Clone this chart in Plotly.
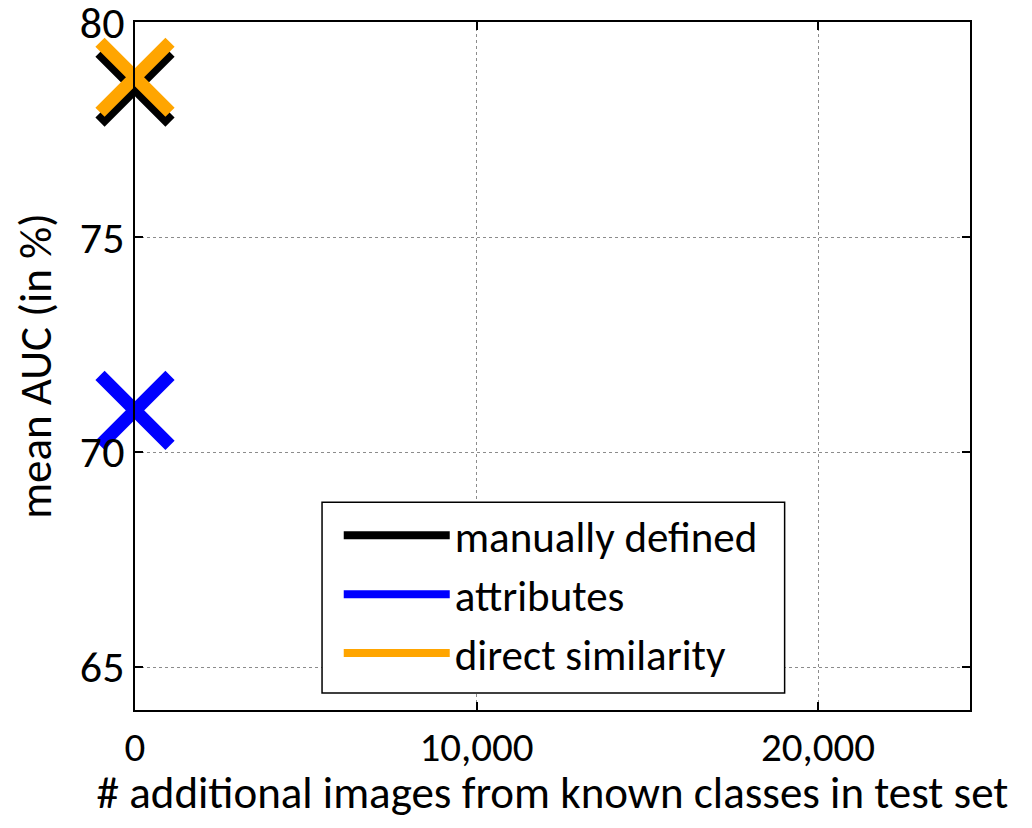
import plotly.graph_objects as go

# data
series_names = ["manually defined", "attributes", "direct similarity"]
series_x = [[0], [0], [0]]
series_y = [[78.49], [70.97], [78.72]]
series_colors = ["#000000", "#0000FF", "#FFA500"]

x_ticks = [0, 10000, 20000]
x_tick_labels = ["0", "10,000", "20,000"]
y_ticks = [65, 70, 75, 80]
y_tick_labels = ["65", "70", "75", "80"]
x_range = [0, 24450]
y_range = [64, 80.005]

FONT = "Calibri, Carlito, Lato, sans-serif"

fig = go.Figure()
for name, xs, ys, col in zip(series_names, series_x, series_y, series_colors):
    fig.add_trace(go.Scatter(
        x=xs, y=ys, mode="markers", name=name, legendgroup=name, showlegend=False,
        marker=dict(symbol="x-thin", size=70, line=dict(color=col, width=13)),
        cliponaxis=False,
    ))
for name, col in zip(series_names, series_colors):
    fig.add_trace(go.Scatter(
        x=[None], y=[None], mode="lines", name=name, legendgroup=name,
        line=dict(color=col, width=8),
    ))

axis_common = dict(
    showline=True, linecolor="black", linewidth=1.5, mirror="ticks",
    ticks="inside", ticklen=8, tickwidth=1.5, tickcolor="black",
    showgrid=True, gridcolor="#8c8c8c", griddash="dot", gridwidth=1,
    zeroline=False,
    automargin=False, ticklabeloverflow="allow",
)

fig.update_xaxes(range=x_range, tickvals=x_ticks, ticktext=x_tick_labels,
                 tickfont=dict(family=FONT, size=41, color="black"),
                 title=dict(text="# additional images from known classes in test set",
                            font=dict(family=FONT, size=45, color="black"), standoff=14),
                 **axis_common)
fig.update_yaxes(range=y_range, tickvals=y_ticks, ticktext=y_tick_labels,
                 tickfont=dict(family=FONT, size=44, color="black"),
                 title=dict(text="mean AUC (in %)",
                            font=dict(family=FONT, size=45, color="black"), standoff=20),
                 **axis_common)

# legend frame (white box behind the legend entries)
fig.add_shape(type="rect", xref="paper", yref="paper",
              x0=0.224, x1=0.778, y0=0.0247, y1=0.302,
              fillcolor="white", line=dict(color="black", width=1.5), layer="above")

fig.update_layout(
    width=1016, height=812,
    margin=dict(l=127, r=54, t=14, b=110, autoexpand=False),
    plot_bgcolor="white", paper_bgcolor="white",
    font=dict(family=FONT, color="black"),
    legend=dict(x=0.244, y=0.304, xanchor="left", yanchor="top",
                bgcolor="rgba(0,0,0,0)", borderwidth=0,
                font=dict(family=FONT, size=43, color="black"),
                itemwidth=106, tracegroupgap=0),
)

fig.write_html("out.html")
